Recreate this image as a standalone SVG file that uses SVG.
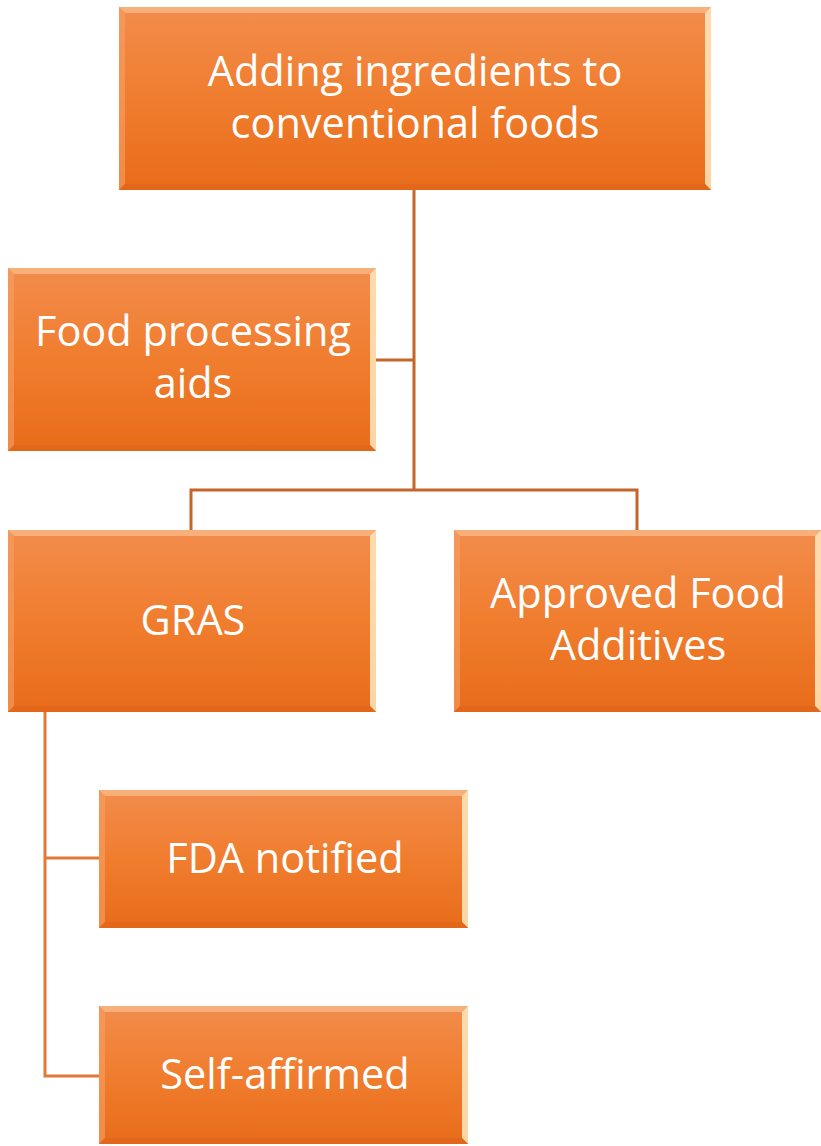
<svg xmlns="http://www.w3.org/2000/svg" width="821" height="1146" viewBox="0 0 821 1146">
  <defs>
    <linearGradient id="fill" x1="0" y1="0" x2="0" y2="1">
      <stop offset="0" stop-color="#F28C4C"/>
      <stop offset="0.5" stop-color="#F07D2E"/>
      <stop offset="1" stop-color="#E86C1A"/>
    </linearGradient>
    <style>
      .box { fill: url(#fill); }
      .hiT { fill: #FBC89A; opacity: 0.6; }
      .hiL { fill: #F7A066; opacity: 0.6; }
      .hiR { fill: #FFE7BE; opacity: 0.85; }
      .shB { fill: #E0651A; opacity: 0.7; }
      .lbl { font-family: "Open Sans", "Noto Sans", sans-serif; font-size: 41.5px; fill: #FFFFFF; text-anchor: middle; }
      .c1 { stroke: #C4652A; stroke-width: 3; fill: none; }
      .c2 { stroke: #E07A38; stroke-width: 3; fill: none; }
    </style>
  </defs>

  <!-- connectors -->
  <g id="connectors">
    <path class="c1" d="M414 190 V490"/>
    <path class="c1" d="M376 360 H414"/>
    <path class="c1" d="M191 530 V490 H637 V530"/>
    <path class="c2" d="M45 712 V1076 H99"/>
    <path class="c2" d="M45 858 H99"/>
  </g>

  <!-- top node -->
  <g id="node-adding">
    <rect class="box" x="119" y="7" width="592" height="183"/>
    <polygon class="hiT" points="119,7 711,7 705,13 125,13"/>
    <polygon class="hiL" points="119,7 125,13 125,184 119,190"/>
    <polygon class="hiR" points="711,7 711,190 705,184 705,13"/>
    <polygon class="shB" points="119,190 711,190 705,184 125,184"/>
    <text class="lbl" x="415" y="86">Adding ingredients to</text>
    <text class="lbl" x="415" y="138">conventional foods</text>
  </g>

  <g id="node-processing">
    <rect class="box" x="8" y="268" width="368" height="183"/>
    <polygon class="hiT" points="8,268 376,268 370,274 14,274"/>
    <polygon class="hiL" points="8,268 14,274 14,445 8,451"/>
    <polygon class="hiR" points="376,268 376,451 370,445 370,274"/>
    <polygon class="shB" points="8,451 376,451 370,445 14,445"/>
    <text class="lbl" x="193" y="346">Food processing</text>
    <text class="lbl" x="193" y="398">aids</text>
  </g>

  <g id="node-gras">
    <rect class="box" x="8" y="530" width="368" height="182"/>
    <polygon class="hiT" points="8,530 376,530 370,536 14,536"/>
    <polygon class="hiL" points="8,530 14,536 14,706 8,712"/>
    <polygon class="hiR" points="376,530 376,712 370,706 370,536"/>
    <polygon class="shB" points="8,712 376,712 370,706 14,706"/>
    <text class="lbl" x="193" y="635">GRAS</text>
  </g>

  <g id="node-additives">
    <rect class="box" x="454" y="530" width="367" height="182"/>
    <polygon class="hiT" points="454,530 821,530 815,536 460,536"/>
    <polygon class="hiL" points="454,530 460,536 460,706 454,712"/>
    <polygon class="hiR" points="821,530 821,712 815,706 815,536"/>
    <polygon class="shB" points="454,712 821,712 815,706 460,706"/>
    <text class="lbl" x="638" y="608">Approved Food</text>
    <text class="lbl" x="638" y="660">Additives</text>
  </g>

  <g id="node-fda">
    <rect class="box" x="99" y="790" width="369" height="138"/>
    <polygon class="hiT" points="99,790 468,790 462,796 105,796"/>
    <polygon class="hiL" points="99,790 105,796 105,922 99,928"/>
    <polygon class="hiR" points="468,790 468,928 462,922 462,796"/>
    <polygon class="shB" points="99,928 468,928 462,922 105,922"/>
    <text class="lbl" x="285" y="873">FDA notified</text>
  </g>

  <g id="node-self">
    <rect class="box" x="99" y="1006" width="369" height="138"/>
    <polygon class="hiT" points="99,1006 468,1006 462,1012 105,1012"/>
    <polygon class="hiL" points="99,1006 105,1012 105,1138 99,1144"/>
    <polygon class="hiR" points="468,1006 468,1144 462,1138 462,1012"/>
    <polygon class="shB" points="99,1144 468,1144 462,1138 105,1138"/>
    <text class="lbl" x="285" y="1089">Self-affirmed</text>
  </g>
</svg>
